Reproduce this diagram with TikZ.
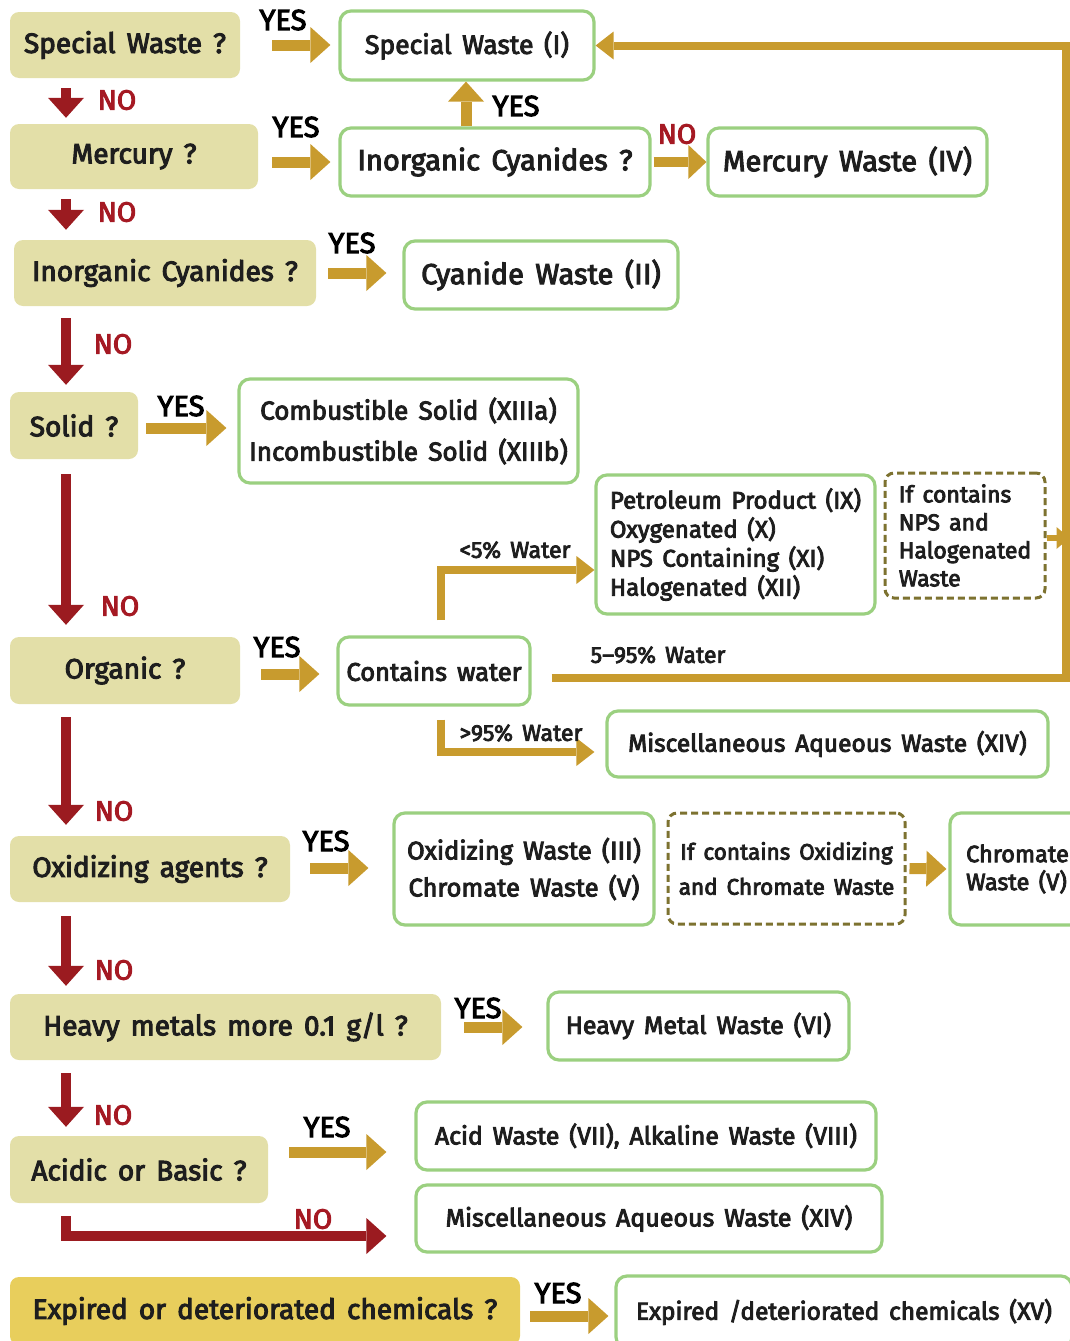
\documentclass[tikz,border=0pt]{standalone}
\usepackage{fontspec}
\setmainfont{Fira Sans}[FakeBold=3.5, WordSpace=1.5]
\usetikzlibrary{arrows.meta}
\definecolor{khaki}{RGB}{227,223,168}
\definecolor{expy}{RGB}{232,206,92}
\definecolor{grn}{RGB}{155,208,128}
\definecolor{gold}{RGB}{200,155,46}
\definecolor{darkred}{RGB}{155,27,32}
\definecolor{nored}{RGB}{165,25,35}
\definecolor{olv}{RGB}{125,114,48}
\definecolor{txt}{RGB}{30,30,30}
\newcommand{\fs}[2]{\fontsize{#1}{#2}\selectfont}
\begin{document}
\begin{tikzpicture}[x=1pt,y=-1pt,
  q/.style={fill=khaki, rounded corners=9pt, inner sep=0pt, text=txt, font=\fs{28}{32}},
  r/.style={draw=grn, line width=3.2pt, fill=white, rounded corners=11pt, inner sep=0pt, text=txt},
  dbox/.style={draw=olv, line width=3pt, dash pattern=on 7pt off 4pt, rounded corners=9pt, inner sep=0pt, text=txt},
  ya/.style={draw=gold, line width=11pt, -{Triangle[length=20pt,width=36pt,line width=0pt]}},
  yb/.style={draw=gold, line width=8pt, -{Triangle[length=18pt,width=28pt,line width=0pt]}},
  yc/.style={draw=gold, line width=6pt, -{Triangle[length=13pt,width=22pt,line width=0pt]}},
  na/.style={draw=darkred, line width=10pt, -{Triangle[length=20pt,width=36pt,line width=0pt]}},
  yeslbl/.style={text=black, font=\fs{29}{32}, inner sep=0pt},
  nolbl/.style={text=nored, font=\fs{28}{32}, inner sep=0pt},
  wlbl/.style={text=txt, font=\fs{23}{26}, inner sep=0pt}
]
\useasboundingbox (0,0) rectangle (1070,1341);
\coordinate (sp) at (66,0);
\coordinate (lp) at (1066,45.5);

% question boxes
\node[q, minimum width=230pt, minimum height=66pt] (q1) at (125,45) {Special Waste ?};
\node[q, minimum width=248pt, minimum height=65pt] (q2) at (134,156.5) {Mercury ?};
\node[q, minimum width=302pt, minimum height=66pt] (q3) at (165,273) {Inorganic Cyanides ?};
\node[q, minimum width=128pt, minimum height=67pt] (q4) at (74,425.5) {Solid ?};
\node[q, minimum width=230pt, minimum height=67pt] (q5) at (125,670.5) {Organic ?};
\node[q, minimum width=280pt, minimum height=66pt] (q6) at (150,869) {Oxidizing agents ?};
\node[q, minimum width=431pt, minimum height=66pt] (q7) at (225.5,1027) {Heavy metals more 0.1 g/l ?};
\node[q, minimum width=258pt, minimum height=67pt] (q8) at (139,1169.5) {Acidic or Basic ?};
\node[q, fill=expy, minimum width=510pt, minimum height=68pt] (q9) at (265,1311) {Expired or deteriorated chemicals ?};

% result boxes
\node[r, minimum width=254pt, minimum height=69pt, font=\fs{26.5}{30}] (r1) at (467,45.5) {Special Waste (I)};
\node[r, minimum width=310pt, minimum height=68pt, font=\fs{29}{32}] (r2) at (495,162) {Inorganic Cyanides ?};
\node[r, minimum width=279pt, minimum height=68pt, font=\fs{29}{32}] (r3) at (847.5,162) {Mercury Waste (IV)};
\node[r, minimum width=274pt, minimum height=68pt, font=\fs{29}{32}] (r4) at (541,275) {Cyanide Waste (II)};
\node[r, minimum width=339pt, minimum height=104pt, align=center, font=\fs{26}{41}] (r5) at (408.5,431) {Combustible Solid (XIIIa)\\Incombustible Solid (XIIIb)};
\node[r, minimum width=279pt, minimum height=139pt, align=left, font=\fs{24}{29}] (r6) at (735.5,544.5) {Petroleum Product (IX)\\Oxygenated (X)\\NPS Containing (XI)\\Halogenated (XII)};
\node[dbox, minimum width=160pt, minimum height=125pt, align=left, font=\fs{23}{28}] (d1) at (965,535.5) {If contains\\NPS and\\Halogenated\\Waste};
\node[r, minimum width=192pt, minimum height=68pt, font=\fs{25.5}{28}] (r7) at (434,671) {Contains water};
\node[r, minimum width=441pt, minimum height=66pt, font=\fs{24.5}{28}] (r8) at (827.5,744) {Miscellaneous Aqueous Waste (XIV)};
\node[r, minimum width=260pt, minimum height=112pt, align=center, font=\fs{25.5}{37}] (r9) at (524,869) {Oxidizing Waste (III)\\Chromate Waste (V)};
\node[dbox, minimum width=237pt, minimum height=111pt, align=center, font=\fs{22.5}{35}] (d2) at (786.5,868.5) {If contains Oxidizing\\and Chromate Waste};
\node[r, minimum width=135pt, minimum height=112pt, align=left, font=\fs{23.5}{28}] (r10) at (1017.5,869) {Chromate\\Waste (V)};
\node[r, minimum width=301pt, minimum height=68pt, font=\fs{25}{28}] (r11) at (698.5,1026) {Heavy Metal Waste (VI)};
\node[r, minimum width=460pt, minimum height=68pt, font=\fs{24.8}{28}] (r12) at (646,1136) {Acid Waste (VII), Alkaline Waste (VIII)};
\node[r, minimum width=466pt, minimum height=67pt, font=\fs{25}{28}] (r13) at (649,1218.5) {Miscellaneous Aqueous Waste (XIV)};
\node[r, minimum width=456pt, minimum height=72pt, font=\fs{24.5}{28}] (r14) at (844,1312) {Expired /deteriorated chemicals (XV)};

% YES arrows
\draw[ya] ([xshift=32pt]q1.east) -- ([xshift=-8pt]q1.east -| r1.west);
\draw[ya] ([shift={(14pt,-5.5pt)}]q2.east) -- ([shift={(-8pt,-5.5pt)}]q2.east -| r2.west);
\draw[ya] ([xshift=12pt]q3.east) -- ([xshift=-16pt]q3.east -| r4.west);
\draw[ya] ([shift={(8pt,-2.5pt)}]q4.east) -- ([shift={(-11pt,-2.5pt)}]q4.east -| r5.west);
\draw[ya] ([shift={(21pt,-3.5pt)}]q5.east) -- ([shift={(-17pt,-3.5pt)}]q5.east -| r7.west);
\draw[ya] ([shift={(20pt,1pt)}]q6.east) -- ([shift={(-24pt,1pt)}]q6.east -| r9.west);
\draw[ya] ([xshift=23pt]q7.east) -- ([xshift=-24pt]q7.east -| r11.west);
\draw[ya] ([shift={(21pt,17.5pt)}]q8.east) -- ([shift={(-28pt,17.5pt)}]q8.east -| r12.west);
\draw[ya] ([shift={(10pt,-5pt)}]q9.east) -- ([shift={(-6pt,-5pt)}]q9.east -| r14.west);
\draw[ya] ([xshift=-29pt]r2.north) -- ([xshift=-1pt]r1.south);
\draw[ya, line width=10pt, -{Triangle[length=18pt,width=34pt,line width=0pt]}] ([xshift=2pt]r2.east) -- (r3.west);
\draw[ya] ([xshift=3pt]d2.east) -- ([xshift=-2pt]r10.west);
\draw[yc] ([yshift=-2.5pt]d1.east) -- ++(23pt,0pt);

% water branches
\draw[yb] ([shift={(20pt,-7pt)}]r7.east) -| (lp) -- (r1.east);
\draw[yb] ([shift={(7pt,15pt)}]r7.north) |- ([yshift=-25.5pt]r6.west);
\draw[yb] ([shift={(7pt,-13pt)}]r7.south) |- ([shift={(-11pt,-8pt)}]r8.west);

% NO arrows
\draw[na] ([yshift=-10pt]sp |- q1.south) -- ([yshift=6pt]sp |- q2.north);
\draw[na] ([yshift=-10pt]sp |- q2.south) -- ([yshift=10pt]sp |- q3.north);
\draw[na] ([yshift=-12pt]sp |- q3.south) -- ([yshift=7pt]sp |- q4.north);
\draw[na] ([yshift=-15pt]sp |- q4.south) -- ([yshift=12pt]sp |- q5.north);
\draw[na] ([yshift=-13pt]sp |- q5.south) -- ([yshift=11pt]sp |- q6.north);
\draw[na] ([yshift=-14pt]sp |- q6.south) -- ([yshift=8pt]sp |- q7.north);
\draw[na] ([yshift=-13pt]sp |- q7.south) -- ([yshift=9pt]sp |- q8.north);
\draw[na] ([yshift=-13pt]sp |- q8.south) |- ([shift={(-28pt,-17.5pt)}]r13.west);

% YES labels
\node[yeslbl] (y1) at (283,20) {YES};
\node[yeslbl] (y2) at (296,127) {YES};
\node[yeslbl] (y3) at (352,243) {YES};
\node[yeslbl] (y4) at (181,406) {YES};
\node[yeslbl] (y5) at (277,647) {YES};
\node[yeslbl] (y6) at (326,841) {YES};
\node[yeslbl] (y7) at (478,1008) {YES};
\node[yeslbl] (y8) at (327,1127) {YES};
\node[yeslbl] (y9) at (558,1293) {YES};
\node[yeslbl] (y10) at (516,106) {YES};
% NO labels
\node[nolbl] (n1) at (117,100) {NO};
\node[nolbl] (n2) at (117,212) {NO};
\node[nolbl] (n3) at (113,344) {NO};
\node[nolbl] (n4) at (120,606) {NO};
\node[nolbl] (n5) at (114,811) {NO};
\node[nolbl] (n6) at (114,970) {NO};
\node[nolbl] (n7) at (113,1115) {NO};
\node[nolbl] (n8) at (313,1219) {NO};
\node[nolbl] (n9) at (677,134) {NO};
% water labels
\node[wlbl] (w1) at (515,550) {<5\% Water};
\node[wlbl] (w2) at (658,655) {5--95\% Water};
\node[wlbl] (w3) at (521,733) {>95\% Water};
\end{tikzpicture}
\end{document}
